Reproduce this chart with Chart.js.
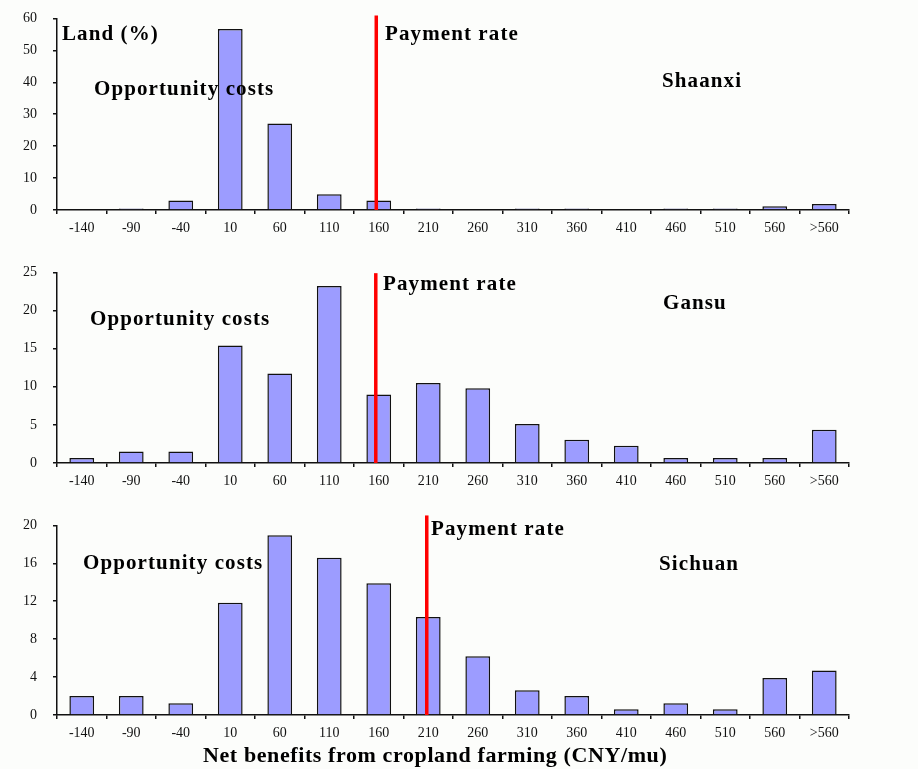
<!DOCTYPE html>
<html>
<head>
<meta charset="utf-8">
<script src="https://cdn.jsdelivr.net/npm/chart.js@4.4.1/dist/chart.umd.min.js"></script>
<style>
  html, body { margin:0; padding:0; background:#fcfdfb; }
  body { width:918px; height:769px; position:relative; overflow:hidden; }
  .pane { position:absolute; left:0; width:918px; }
  .lbl { position:absolute; font-family:"Liberation Serif","Times New Roman",serif; font-weight:bold; font-size:21px; line-height:22px; color:#000; white-space:nowrap; letter-spacing:1.1px; }
</style>
</head>
<body>
<div class="pane" style="top:-6px;height:246px"><canvas id="c1"></canvas></div>
<div class="pane" style="top:248px;height:245px"><canvas id="c2"></canvas></div>
<div class="pane" style="top:501px;height:244px"><canvas id="c3"></canvas></div>

<div class="lbl" style="left:62px;top:22px">Land (%)</div>
<div class="lbl" style="left:385px;top:22px">Payment rate</div>
<div class="lbl" style="left:94px;top:77px">Opportunity costs</div>
<div class="lbl" style="left:662px;top:69px">Shaanxi</div>

<div class="lbl" style="left:383px;top:272px">Payment rate</div>
<div class="lbl" style="left:90px;top:307px">Opportunity costs</div>
<div class="lbl" style="left:663px;top:291px">Gansu</div>

<div class="lbl" style="left:431px;top:517px">Payment rate</div>
<div class="lbl" style="left:83px;top:551px">Opportunity costs</div>
<div class="lbl" style="left:659px;top:552px">Sichuan</div>

<div class="lbl" style="left:203px;top:744px;font-size:22px;letter-spacing:0.6px">Net benefits from cropland farming (CNY/mu)</div>

<script>
const categories = ["-140","-90","-40","10","60","110","160","210","260","310","360","410","460","510","560",">560"];

const shaanxi = [0, 0.5, 3.0, 56.7, 27.1, 4.9, 3.0, 0.5, 0, 0.5, 0.5, 0, 0.5, 0.5, 1.2, 1.9];
const gansu   = [0.65, 1.5, 1.5, 15.4, 11.75, 23.2, 9.0, 10.5, 9.8, 5.1, 3.05, 2.25, 0.65, 0.65, 0.65, 4.35];
const sichuan = [2.0, 2.0, 1.25, 11.85, 18.95, 16.6, 13.9, 10.35, 6.2, 2.6, 2.0, 0.6, 1.25, 0.6, 3.9, 4.7];

// payment rate line: position on the category index scale, and its top value
const shaanxiPay = [5.95, 60.94];
const gansuPay   = [5.94, 24.9];
const sichuanPay = [6.97, 21.05];

const yMax   = [60, 25, 20];
const yStep  = [10, 5, 4];

const tickFont = { family: "Liberation Serif", size: 14 };

function makeChart(id, values, pay, max, step) {
  new Chart(document.getElementById(id), {
    data: {
      labels: categories,
      datasets: [
        {
          type: 'bar',
          order: 1,
          data: values,
          backgroundColor: '#9c9cff',
          borderColor: '#111',
          borderWidth: 1.5,
          barPercentage: 0.5,
          categoryPercentage: 1.0,
          grouped: false,
          xAxisID: 'x', yAxisID: 'y'
        },
        {
          type: 'line',
          order: 0,
          data: [{x: pay[0], y: 0}, {x: pay[0], y: pay[1]}],
          borderColor: '#ff0000',
          borderWidth: 3.5,
          pointRadius: 0,
          clip: false,
          xAxisID: 'xl', yAxisID: 'y'
        }
      ]
    },
    options: {
      responsive: true,
      maintainAspectRatio: false,
      animation: false,
      events: [],
      layout: { padding: { top: 0, right: 69, left: 0, bottom: 0 } },
      plugins: { legend: { display: false }, tooltip: { enabled: false } },
      scales: {
        x: {
          type: 'category',
          offset: true,
          border: { color: '#111', width: 1.5 },
          grid: { display: true, drawOnChartArea: false, offset: true, tickLength: 4, color: '#111', lineWidth: 1.5 },
          ticks: { font: tickFont, color: '#111', padding: 6, maxRotation: 0, autoSkip: false },
          afterFit: s => { s.height = 30; }
        },
        xl: {
          type: 'linear',
          display: false,
          min: -0.5, max: 15.5
        },
        y: {
          min: 0, max: max,
          border: { color: '#111', width: 1.5 },
          grid: { display: true, drawOnChartArea: false, tickLength: 4, color: '#111', lineWidth: 1.5 },
          ticks: { stepSize: step, font: tickFont, color: '#111', padding: 16 },
          afterFit: s => { s.width = 57; }
        }
      }
    }
  });
}

makeChart('c1', shaanxi, shaanxiPay, yMax[0], yStep[0]);
makeChart('c2', gansu, gansuPay, yMax[1], yStep[1]);
makeChart('c3', sichuan, sichuanPay, yMax[2], yStep[2]);
</script>
</body>
</html>
